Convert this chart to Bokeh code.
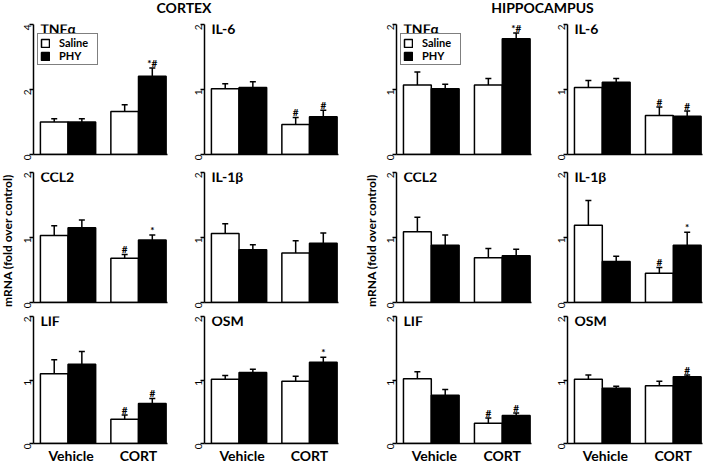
import math
from bokeh.plotting import figure
from bokeh.layouts import row, column
from bokeh.models import (ColumnDataSource, Range1d, FixedTicker, Whisker, TeeHead,
                          Legend, LegendItem, Label)
from bokeh.core.properties import value
from bokeh.embed import file_html
from bokeh.resources import INLINE

FONT = "Lato"

region_titles = ["CORTEX", "HIPPOCAMPUS"]
group_labels = ["Vehicle", "CORT"]
treatment_labels = ["Saline", "PHY"]
gene_labels = ["TNFα", "IL-6", "CCL2", "IL-1β", "LIF", "OSM"]
y_label = "mRNA (fold over control)"

ctx_ymax = [4, 2, 2, 2, 2, 2]
ctx_yticks = [[0, 2, 4], [0, 1, 2], [0, 1, 2], [0, 1, 2], [0, 1, 2], [0, 1, 2]]
hip_ymax = [2, 2, 2, 2, 2, 2]
hip_yticks = [[0, 1, 2], [0, 1, 2], [0, 1, 2], [0, 1, 2], [0, 1, 2], [0, 1, 2]]

# values per gene: [Vehicle, CORT]
ctx_saline = [[1.00, 1.32], [1.01, 0.46], [1.03, 0.68], [1.06, 0.76], [1.10, 0.38], [1.01, 0.98]]
ctx_saline_sem = [[0.10, 0.21], [0.08, 0.11], [0.15, 0.06], [0.15, 0.19], [0.22, 0.07], [0.06, 0.08]]
ctx_phy = [[1.00, 2.41], [1.03, 0.58], [1.15, 0.96], [0.81, 0.91], [1.25, 0.63], [1.12, 1.28]]
ctx_phy_sem = [[0.10, 0.25], [0.09, 0.10], [0.12, 0.08], [0.08, 0.16], [0.20, 0.08], [0.05, 0.08]]
ctx_saline_sig = [["", ""], ["", "#"], ["", "#"], ["", ""], ["", "#"], ["", ""]]
ctx_phy_sig = [["", "*#"], ["", "#"], ["", "*"], ["", ""], ["", "#"], ["", "*"]]

hip_saline = [[1.07, 1.07], [1.03, 0.60], [1.09, 0.69], [1.19, 0.45], [1.02, 0.32], [1.01, 0.91]]
hip_saline_sem = [[0.20, 0.10], [0.11, 0.13], [0.22, 0.14], [0.38, 0.09], [0.11, 0.08], [0.07, 0.07]]
hip_phy = [[1.01, 1.78], [1.11, 0.59], [0.88, 0.72], [0.63, 0.88], [0.76, 0.44], [0.87, 1.05]]
hip_phy_sem = [[0.07, 0.09], [0.06, 0.08], [0.16, 0.10], [0.08, 0.20], [0.09, 0.04], [0.03, 0.03]]
hip_saline_sig = [["", ""], ["", "#"], ["", ""], ["", "#"], ["", "#"], ["", ""]]
hip_phy_sig = [["", "*#"], ["", "#"], ["", ""], ["", "*"], ["", "#"], ["", "#"]]

# layout constants (pixels)
HEADER_H = 16
COLS = [(18, 134, 18), (19, 134, 26), (18, 135, 14), (22, 135, 7)]
ROWS = [(8, 130, 7), (11, 130, 6), (8, 130, 20)]
YLAB_W = [15, 14]
GROUP_CENTERS = [1.25, 3.8]
LABEL_POS = [1.36, 3.8]
X_END = 4.85


def panel(gi, saline, saline_sem, phy, phy_sem, s_sig, p_sig, ymax, yticks,
          col, rowspec, legend=False, xlabels=False):
    l, fw, r = col
    t, fh, b = rowspec
    p = figure(width=l + fw + r, height=t + fh + b,
               x_range=Range1d(0, X_END), y_range=Range1d(0, ymax),
               output_backend="svg", toolbar_location=None,
               min_border_left=l, min_border_right=r,
               min_border_top=t, min_border_bottom=b)
    p.outline_line_color = None
    p.xgrid.visible = False
    p.ygrid.visible = False
    p.background_fill_color = "white"
    p.border_fill_color = "white"

    xs_sal = [c - 0.5 for c in GROUP_CENTERS]
    xs_phy = [c + 0.5 for c in GROUP_CENTERS]
    src_s = ColumnDataSource(dict(x=xs_sal, top=saline,
                                  upper=[m + e for m, e in zip(saline, saline_sem)],
                                  sig=s_sig))
    src_p = ColumnDataSource(dict(x=xs_phy, top=phy,
                                  upper=[m + e for m, e in zip(phy, phy_sem)],
                                  sig=p_sig))
    for src in (src_s, src_p):
        p.add_layout(Whisker(source=src, base="x", upper="upper", lower="top",
                             line_color="black", line_width=1.5,
                             upper_head=TeeHead(size=6, line_width=1.5, line_color="black"),
                             lower_head=None))
    r_s = p.vbar(x="x", top="top", bottom=0, width=1.0, source=src_s,
                 fill_color="white", line_color="black", line_width=1.5)
    r_p = p.vbar(x="x", top="top", bottom=0, width=1.0, source=src_p,
                 fill_color="black", line_color="black", line_width=1.5)
    for src in (src_s, src_p):
        p.text(x="x", y="upper", text="sig", source=src, text_align="center",
               text_baseline="bottom", y_offset=1,
               text_font=value(FONT), text_font_size="10px", text_font_style="bold",
               text_color="black")

    ya = p.yaxis[0]
    ya.ticker = FixedTicker(ticks=yticks)
    ya.axis_line_width = 1.5
    ya.axis_line_color = "black"
    ya.major_tick_out = 4
    ya.major_tick_in = 0
    ya.major_tick_line_width = 1.5
    ya.minor_tick_out = 0
    ya.minor_tick_in = 0
    ya.major_label_orientation = math.pi / 2
    ya.major_label_standoff = 2
    ya.major_label_text_font = FONT
    ya.major_label_text_font_size = "10px"
    ya.major_label_text_color = "black"

    xa = p.xaxis[0]
    xa.axis_line_width = 1.5
    xa.axis_line_color = "black"
    xa.major_tick_out = 0
    xa.major_tick_in = 0
    xa.minor_tick_out = 0
    xa.minor_tick_in = 0
    if xlabels:
        xa.ticker = FixedTicker(ticks=LABEL_POS)
        xa.major_label_overrides = {LABEL_POS[0]: group_labels[0], LABEL_POS[1]: group_labels[1]}
        xa.major_label_standoff = 3
        xa.major_label_text_font = FONT
        xa.major_label_text_font_size = "14px"
        xa.major_label_text_font_style = "bold"
        xa.major_label_text_color = "black"
    else:
        xa.ticker = FixedTicker(ticks=[])

    if legend:
        lg = Legend(items=[LegendItem(label=treatment_labels[0], renderers=[r_s]),
                           LegendItem(label=treatment_labels[1], renderers=[r_p])],
                    location=(4, 89), border_line_color="black", border_line_width=1,
                    background_fill_color="white", background_fill_alpha=1,
                    label_text_font=FONT, label_text_font_style="bold",
                    label_text_color="black",
                    label_text_font_size="11px", glyph_width=10, glyph_height=10,
                    label_height=11, label_width=36, label_standoff=9,
                    padding=2, spacing=0, margin=0)
        p.add_layout(lg)

    p.add_layout(Label(x=0.25, y=ymax, y_offset=5, text=gene_labels[gi],
                       text_baseline="top", text_align="left",
                       text_font=FONT, text_font_size="14px", text_font_style="bold",
                       text_color="black"))
    return p


def region_grid(saline, saline_sem, phy, phy_sem, s_sig, p_sig, ymaxs, yticks, cols, legend_gene):
    rows_ = []
    for ri in range(3):
        figs = []
        for ci in range(2):
            gi = ri * 2 + ci
            figs.append(panel(gi, saline[gi], saline_sem[gi], phy[gi], phy_sem[gi],
                              s_sig[gi], p_sig[gi], ymaxs[gi], yticks[gi],
                              cols[ci], ROWS[ri], legend=(gi == legend_gene),
                              xlabels=(ri == 2)))
        rows_.append(row(*figs, spacing=0))
    return column(*rows_, spacing=0)


def ylab_fig(w, h, text_x):
    p = figure(width=w, height=h, x_range=Range1d(0, w), y_range=Range1d(0, h),
               output_backend="svg", toolbar_location=None, min_border=0)
    p.axis.visible = False
    p.grid.visible = False
    p.outline_line_color = None
    p.add_layout(Label(x=text_x, y=226, text=y_label, angle=math.pi / 2,
                       text_align="center", text_baseline="middle",
                       text_font=FONT, text_font_size="12px", text_font_style="bold",
                       text_color="black"))
    return p


total_w = YLAB_W[0] + sum(c[0] + c[1] + c[2] for c in COLS) + YLAB_W[1]
body_h = sum(r_[0] + r_[1] + r_[2] for r_ in ROWS)

header = figure(width=total_w, height=HEADER_H, x_range=Range1d(0, total_w),
                y_range=Range1d(0, HEADER_H), output_backend="svg",
                toolbar_location=None, min_border=0)
header.axis.visible = False
header.grid.visible = False
header.outline_line_color = None
header.add_layout(Label(x=183.5, y=9, text=region_titles[0], text_align="center",
                        text_baseline="middle", text_font=FONT, text_font_size="14px",
                        text_font_style="bold", text_color="black"))
header.add_layout(Label(x=542, y=9, text=region_titles[1], text_align="center",
                        text_baseline="middle", text_font=FONT, text_font_size="14px",
                        text_font_style="bold", text_color="black"))

ctx = region_grid(ctx_saline, ctx_saline_sem, ctx_phy, ctx_phy_sem, ctx_saline_sig,
                  ctx_phy_sig, ctx_ymax, ctx_yticks, COLS[0:2], 0)
hip = region_grid(hip_saline, hip_saline_sem, hip_phy, hip_phy_sem, hip_saline_sig,
                  hip_phy_sig, hip_ymax, hip_yticks, COLS[2:4], 0)

body = row(ylab_fig(YLAB_W[0], body_h, 7), ctx, ylab_fig(YLAB_W[1], body_h, 7), hip, spacing=0)
p = column(header, body, spacing=0)

open("out.html", "w").write(file_html(p, INLINE))
